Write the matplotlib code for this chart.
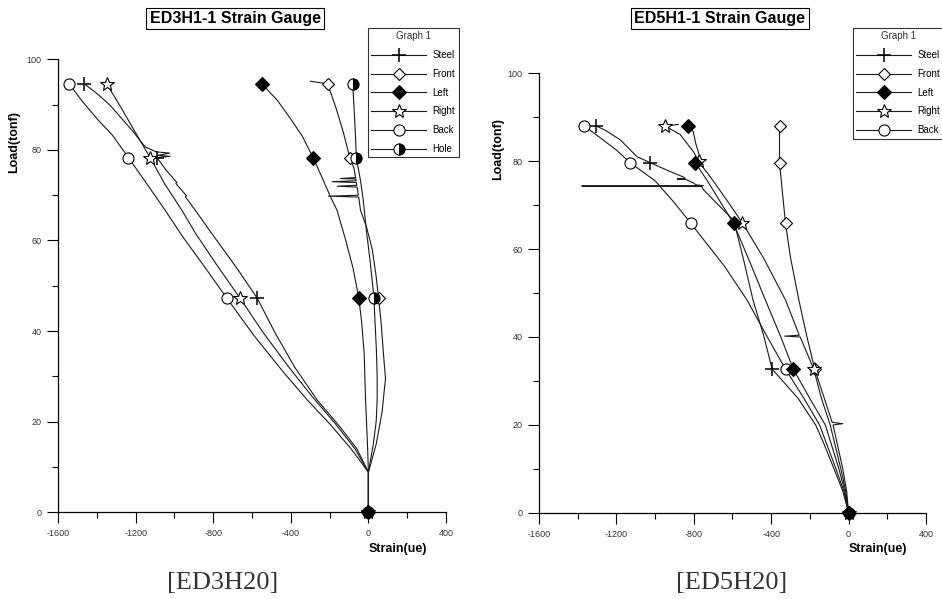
"""
Load-strain curves of two strain gauge tests (ED3H20 / ED5H20).
"""

import matplotlib
matplotlib.use("Agg")
import matplotlib.pyplot as plt
from matplotlib.ticker import MultipleLocator

plt.rcParams["font.family"] = ["Liberation Sans", "DejaVu Sans"]
plt.rcParams["axes.unicode_minus"] = False

# ---------------- ED3H20 (left panel) ----------------
ed3_steel_x = [0, 0, -60, -150, -265, -380, -480, -574, -680, -790, -893, -944, -938, -993,
               -987, -1042, -1090, -1022, -1088, -1025, -1095, -1151, -1220, -1332, -1400, -1464]
ed3_steel_y = [0, 8.8, 14, 19, 24.8, 32, 39.5, 47.3, 54, 60.5, 66.7, 69.7, 69.9, 72.6,
               72.8, 75.5, 78.3, 78.6, 78.8, 79.3, 79.6, 80.7, 84.4, 89.9, 92.5, 94.6]
ed3_steel_mk = [0, 7, 16, 25]

ed3_right_x = [0, 0, -70, -170, -290, -410, -540, -661, -780, -890, -962, -1050, -1125,
               -1203, -1270, -1349]
ed3_right_y = [0, 8.8, 14, 19.5, 25.5, 32, 39.5, 47.2, 54.5, 61.5, 66.7, 72.5, 78.3,
               84, 89, 94.6]
ed3_right_mk = [0, 7, 12, 15]

ed3_back_x = [0, 0, -90, -200, -316, -440, -590, -729, -850, -960, -1048, -1150, -1237,
              -1320, -1393, -1470, -1543]
ed3_back_y = [0, 8.8, 14, 19.5, 24.8, 31, 39, 47.2, 54.5, 61, 66.7, 73, 78.3,
              83.3, 86.6, 90.5, 94.6]
ed3_back_mk = [0, 7, 12, 16]

ed3_left_x = [0, 0, -5, -10, -15, -22, -35, -50, -80, -120, -162, -196, -240, -285,
              -340, -403, -470, -549]
ed3_left_y = [0, 8.8, 15, 20, 25, 35, 42, 47.4, 54, 60.5, 66.7, 69.7, 74, 78.3,
              83, 87, 91, 94.6]
ed3_left_mk = [0, 7, 13, 17]

ed3_front_x = [0, 0, 40, 70, 88, 80, 76, 65, 52, 40, 20, -10, -41, -50, -206, -52, -58, -160,
               -60, -62, -187, -63, -65, -144, -66, -75, -96, -130, -165, -210, -299]
ed3_front_y = [0, 8.8, 15, 22, 29.5, 33.6, 35.8, 42, 47.4, 52, 58, 63, 66.7, 69.6, 69.8, 70.0,
               71.8, 72.0, 72.2, 72.8, 73.0, 73.2, 73.6, 73.7, 73.9, 76, 78.3, 84, 89, 94.6, 95.2]
ed3_front_mk = [0, 8, 26, 29]

ed3_hole_x = [0, 0, 25, 40, 45, 45, 41, 28, 10, -10, -27, -40, -62, -70, -81]
ed3_hole_y = [0, 8.8, 15, 20, 24.8, 30, 35.8, 47.4, 55, 62, 69, 73, 78.3, 86, 94.6]
ed3_hole_mk = [0, 7, 12, 14]

# ---------------- ED5H20 (right panel) ----------------
ed5_steel_x = [0, -30, -75, -130, -170, -260, -395, -440, -494, -545, -594, -650, -697, -750,
               -760, -1379, -751, -790, -801, -840, -886, -845, -850, -922, -1025, -1094,
               -1180, -1250, -1305]
ed5_steel_y = [0, 5, 10, 16, 20, 26, 32.7, 40.5, 48.4, 58, 66.5, 69, 71.1, 73.5,
               74.2, 74.3, 74.4, 74.6, 75.0, 75.8, 75.9, 76.0, 76.3, 77.6, 79.6, 81,
               84.8, 86.8, 88]
ed5_steel_mk = [0, 6, 24, 28]

ed5_back_x = [0, -25, -65, -150, -230, -326, -420, -525, -640, -815, -900, -1000, -1129,
              -1200, -1290, -1367]
ed5_back_y = [0, 5, 10, 20, 26, 32.7, 40, 48.4, 56, 65.8, 70.5, 75.5, 79.6,
              82.5, 85.5, 88]
ed5_back_mk = [0, 5, 9, 12, 15]

ed5_left_x = [0, -20, -50, -120, -200, -286, -350, -430, -510, -594, -660, -730, -792,
              -772, -790, -803, -832]
ed5_left_y = [0, 5, 10, 20, 26, 32.7, 40, 48.4, 57, 65.8, 70.5, 75.5, 79.6,
              81.4, 84, 86.7, 88]
ed5_left_mk = [0, 5, 9, 12, 16]

ed5_right_x = [0, -15, -40, -95, -140, -180, -250, -330, -255, -326, -440, -550, -620, -700,
               -775, -800, -870, -950, -880]
ed5_right_y = [0, 5, 10, 20, 26, 32.7, 40, 40.2, 40.4, 48.4, 58, 66, 70.5, 75.5,
               79.9, 82, 86, 88, 88.3]
ed5_right_mk = [0, 5, 11, 14, 17]

ed5_front_x = [0, -10, -30, -80, -30, -85, -125, -175, -215, -257, -300, -326, -340,
               -357, -357, -357]
ed5_front_y = [0, 5, 10, 20, 20.3, 20.6, 26, 32.7, 40, 48.4, 58, 65.8, 72,
               79.6, 84, 88]
ed5_front_mk = [0, 7, 11, 13, 15]

STYLES = {
    "Steel": dict(marker="+", ms=10, mew=1.1, mfc="black"),
    "Front": dict(marker="D", ms=6.5, mew=0.8, mfc="white"),
    "Left": dict(marker="D", ms=7, mew=0.8, mfc="black", zorder=4),
    "Right": dict(marker="*", ms=10, mew=0.8, mfc="white"),
    "Back": dict(marker="o", ms=8, mew=0.8, mfc="white"),
    "Hole": dict(marker="o", ms=8, mew=0.8, mfc="black", fillstyle="right",
                 markerfacecoloralt="white"),
}


def draw_panel(ax, series, label_xy):
    for name, x, y, mk in series:
        ax.plot(x, y, color="#1a1a1a", lw=0.8, mec="black", markevery=mk,
                clip_on=False, label=name, **STYLES[name])

    ax.set_xlim(-1600, 400)
    ax.set_ylim(0, 100)
    ax.xaxis.set_major_locator(MultipleLocator(400))
    ax.xaxis.set_minor_locator(MultipleLocator(200))
    ax.yaxis.set_major_locator(MultipleLocator(20))
    ax.yaxis.set_minor_locator(MultipleLocator(10))
    for s in ["top", "right"]:
        ax.spines[s].set_visible(False)
    for s in ["left", "bottom"]:
        ax.spines[s].set_linewidth(0.9)
    ax.tick_params(which="major", direction="out", length=8, width=0.8, pad=4,
                   labelsize=6.5, labelcolor="#333333")
    ax.tick_params(which="minor", direction="out", length=4, width=0.8)

    ax.text(0, -0.082, "Strain(ue)", transform=ax.get_xaxis_transform(),
            ha="left", va="center", fontsize=9, fontweight="bold")
    ax.text(label_xy[0], label_xy[1], "Load(tonf)", transform=ax.transAxes,
            rotation=90, ha="center", va="center", fontsize=9, fontweight="bold")


fig = plt.figure(figsize=(9.42, 5.99), dpi=100)

ax1 = fig.add_axes([0.0616, 0.1452, 0.4119, 0.7555])
draw_panel(ax1, [
    ("Steel", ed3_steel_x, ed3_steel_y, ed3_steel_mk),
    ("Front", ed3_front_x, ed3_front_y, ed3_front_mk),
    ("Left", ed3_left_x, ed3_left_y, ed3_left_mk),
    ("Right", ed3_right_x, ed3_right_y, ed3_right_mk),
    ("Back", ed3_back_x, ed3_back_y, ed3_back_mk),
    ("Hole", ed3_hole_x, ed3_hole_y, ed3_hole_mk),
], (-0.113, 0.818))

ax2 = fig.add_axes([0.5722, 0.1436, 0.4108, 0.7345])
draw_panel(ax2, [
    ("Steel", ed5_steel_x, ed5_steel_y, ed5_steel_mk),
    ("Front", ed5_front_x, ed5_front_y, ed5_front_mk),
    ("Left", ed5_left_x, ed5_left_y, ed5_left_mk),
    ("Right", ed5_right_x, ed5_right_y, ed5_right_mk),
    ("Back", ed5_back_x, ed5_back_y, ed5_back_mk),
], (-0.106, 0.827))

for ax, anchor in [(ax1, (368 / 942, 1 - 28 / 599)), (ax2, (853 / 942, 1 - 28 / 599))]:
    leg = ax.legend(loc="upper left", bbox_to_anchor=anchor, bbox_transform=fig.transFigure,
                    title="Graph 1", fontsize=7, title_fontsize=7, frameon=True,
                    fancybox=False, edgecolor="black", handlelength=5.6,
                    handletextpad=0.7, labelspacing=0.9, borderpad=0.35,
                    borderaxespad=0)
    leg.get_frame().set_linewidth(0.8)
    leg.get_title().set_color("#333333")

box = dict(boxstyle="square,pad=0.2", fc="white", ec="black", lw=0.8)
fig.text(235 / 942, 1 - 18.5 / 599, "ED3H1-1 Strain Gauge", ha="center", va="center",
         fontsize=11.5, fontweight="bold", bbox=box)
fig.text(720 / 942, 1 - 18.5 / 599, "ED5H1-1 Strain Gauge", ha="center", va="center",
         fontsize=11.5, fontweight="bold", bbox=box)

fig.text(223 / 942, 1 - 583 / 599, "[ED3H20]", ha="center", va="center",
         fontsize=19, family="Liberation Serif", color="#333333")
fig.text(732 / 942, 1 - 583 / 599, "[ED5H20]", ha="center", va="center",
         fontsize=19, family="Liberation Serif", color="#333333")

fig.savefig("out.png", dpi=100)
